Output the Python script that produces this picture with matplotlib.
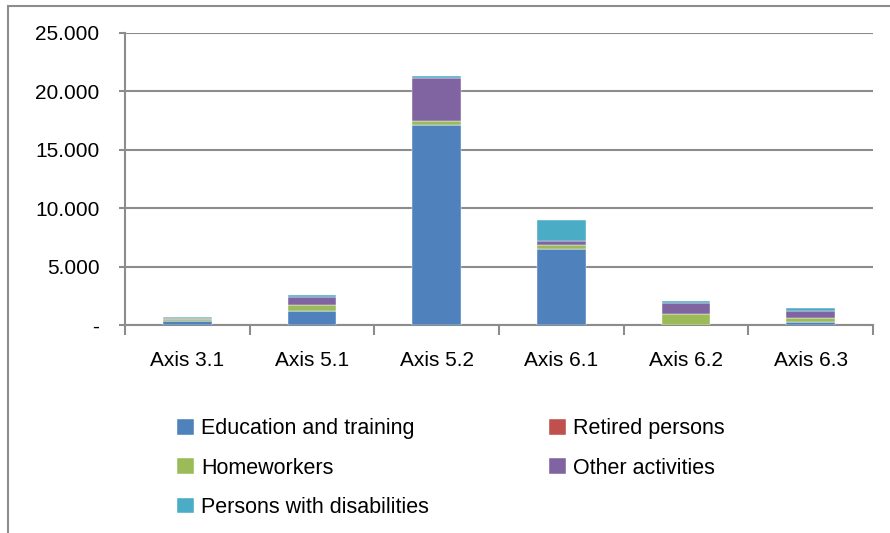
import numpy as np
import matplotlib.pyplot as plt
from matplotlib.patches import Rectangle

# data
axes_labels = ["Axis 3.1", "Axis 5.1", "Axis 5.2", "Axis 6.1", "Axis 6.2", "Axis 6.3"]
education = [300, 1220, 17150, 6530, 0, 260]
retired = [10, 10, 10, 10, 10, 10]
homeworkers = [180, 490, 340, 340, 915, 315]
other = [150, 660, 3680, 340, 970, 655]
disabilities = [50, 200, 170, 1750, 170, 200]

series = [
    ("Education and training", education, "#4F81BD"),
    ("Retired persons", retired, "#C0504D"),
    ("Homeworkers", homeworkers, "#9BBB59"),
    ("Other activities", other, "#8064A2"),
    ("Persons with disabilities", disabilities, "#4BACC6"),
]

plt.rcParams['font.family'] = ['Liberation Sans', 'DejaVu Sans']

fig = plt.figure(figsize=(8.9, 5.33), dpi=100)
ax = fig.add_axes([125/890, 1-325/533, (873-125)/890, (325-33)/533])

x = np.arange(len(axes_labels))
bottom = np.zeros(len(axes_labels))
handles = {}
for name, vals, col in series:
    b = ax.bar(x, vals, 0.39, bottom=bottom, color=col, edgecolor="white", linewidth=0.3, label=name, zorder=3)
    handles[name] = b
    bottom += np.array(vals)

ax.set_xlim(-0.5, len(axes_labels) - 0.5)
ax.set_ylim(0, 25000)
yt = [0, 5000, 10000, 15000, 20000, 25000]
ax.set_yticks(yt)
ax.set_yticklabels(["-"] + [f"{v // 1000}.000" for v in yt[1:]], fontsize=15)
ax.yaxis.grid(True, color="#8c8c8c", linewidth=1.5, zorder=0)

ax.set_xticks(x)
ax.set_xticklabels(axes_labels, fontsize=15)
ax.set_xticks(np.arange(-0.5, len(axes_labels)), minor=True)
ax.tick_params(axis="x", which="major", length=0, pad=19)
ax.tick_params(axis="x", which="minor", length=7, width=1.5, color="#8c8c8c")
ax.tick_params(axis="y", length=4.5, width=1.5, color="#8c8c8c", pad=14)

for s in ["top", "right"]:
    ax.spines[s].set_visible(False)
ax.spines["left"].set_color("#8c8c8c")
ax.spines["left"].set_linewidth(1.5)
ax.spines["bottom"].set_color("#8c8c8c")
ax.spines["bottom"].set_linewidth(1.5)

order = ["Education and training", "Homeworkers", "Persons with disabilities",
         "Retired persons", "Other activities"]
fig.legend([handles[n] for n in order], order, ncol=2, loc="upper left",
           bbox_to_anchor=(158/890, 1-399/533), frameon=False, fontsize=15.5,
           handlelength=0.75, handleheight=0.75, handletextpad=0.35,
           columnspacing=5.6, labelspacing=0.85)

# outer chart frame
fig.patches.append(Rectangle((8/890, -0.1), 1.1, 1 - 6/533 + 0.1, transform=fig.transFigure,
                             fill=False, edgecolor="#8c8c8c", linewidth=1.5))

fig.savefig("out.png", dpi=100)
